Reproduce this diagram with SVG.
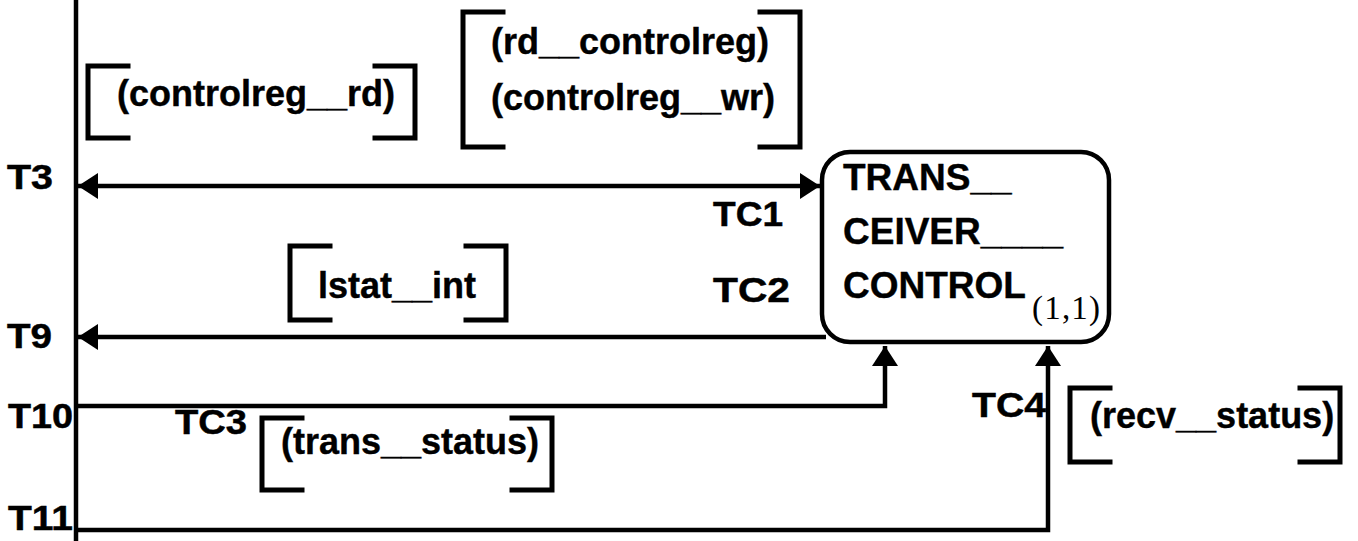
<svg xmlns="http://www.w3.org/2000/svg" width="1358" height="541" viewBox="0 0 1358 541">
  <style>
    .ln { fill: none; stroke: #000; stroke-width: 4.5; stroke-linejoin: miter; }
    .br { fill: none; stroke: #000; stroke-width: 5; stroke-linecap: square; }
    .lab { font-family: "Liberation Sans", Arial, sans-serif; font-weight: bold; font-size: 36px; fill: #000; stroke: #000; stroke-width: 0.4; }
    .port { font-family: "Liberation Sans", Arial, sans-serif; font-weight: bold; font-size: 35px; fill: #000; stroke: #000; stroke-width: 0.5; }
    .name { font-family: "Liberation Sans", Arial, sans-serif; font-weight: bold; font-size: 37px; fill: #000; stroke: #000; stroke-width: 0.4; }
    .sub { font-family: "Liberation Serif", "Times New Roman", serif; font-size: 33px; fill: #000; }
  </style>
  <defs>
    <marker id="ah" viewBox="0 0 20 26" refX="20" refY="13" markerWidth="20" markerHeight="26" markerUnits="userSpaceOnUse" orient="auto-start-reverse">
      <path d="M0 0 L20 13 L0 26 Z" fill="#000"/>
    </marker>
  </defs>

  <rect width="1358" height="541" fill="#fff"/>

  <!-- environment boundary -->
  <line class="ln" x1="76" y1="0" x2="76" y2="541"/>

  <!-- terminal labels -->
  <g id="terminals">
    <text class="port" x="7" y="189" textLength="46" lengthAdjust="spacingAndGlyphs">T3</text>
    <text class="port" x="7" y="348" textLength="45" lengthAdjust="spacingAndGlyphs">T9</text>
    <text class="port" x="8" y="428" textLength="65" lengthAdjust="spacingAndGlyphs">T10</text>
    <text class="port" x="8" y="530" textLength="65" lengthAdjust="spacingAndGlyphs">T11</text>
  </g>

  <!-- transceiver control module -->
  <g id="trans_ceiver_control">
    <rect class="ln" x="822" y="152" width="287" height="190" rx="28" ry="28" fill="#fff"/>
    <text class="name" x="843" y="190">TRANS__</text>
    <text class="name" x="843" y="244">CEIVER____</text>
    <text class="name" x="843" y="298">CONTROL</text>
    <text class="sub" x="1032" y="319" textLength="68" lengthAdjust="spacing">(1,1)</text>
  </g>

  <!-- connectors -->
  <g id="connectors">
    <line class="ln" x1="78" y1="186" x2="820" y2="186" marker-start="url(#ah)" marker-end="url(#ah)"/>
    <line class="ln" x1="826" y1="337" x2="78" y2="337" marker-end="url(#ah)"/>
    <path class="ln" d="M76 406 H885 V346" marker-end="url(#ah)"/>
    <path class="ln" d="M76 530 H1048 V346" marker-end="url(#ah)"/>
  </g>

  <!-- port labels -->
  <g id="ports">
    <text class="port" x="713" y="226" textLength="70" lengthAdjust="spacingAndGlyphs">TC1</text>
    <text class="port" x="713" y="302" textLength="77" lengthAdjust="spacingAndGlyphs">TC2</text>
    <text class="port" x="175" y="434" textLength="72" lengthAdjust="spacingAndGlyphs">TC3</text>
    <text class="port" x="972" y="417" textLength="74" lengthAdjust="spacingAndGlyphs">TC4</text>
  </g>

  <!-- signal label: controlreg__rd -->
  <g id="sig_controlreg_rd">
    <path class="br" d="M128 66 H88 V138 H128"/>
    <path class="br" d="M375 66 H415 V138 H375"/>
    <text class="lab" x="117" y="106">(controlreg__rd)</text>
  </g>

  <!-- signal label: rd__controlreg / controlreg__wr -->
  <g id="sig_rd_wr">
    <path class="br" d="M503 12 H463 V147 H503"/>
    <path class="br" d="M760 12 H800 V147 H760"/>
    <text class="lab" x="491" y="54">(rd__controlreg)</text>
    <text class="lab" x="491" y="110">(controlreg__wr)</text>
  </g>

  <!-- signal label: lstat__int -->
  <g id="sig_lstat_int">
    <path class="br" d="M330 246 H290 V320 H330"/>
    <path class="br" d="M466 246 H506 V320 H466"/>
    <text class="lab" x="318" y="298">lstat__int</text>
  </g>

  <!-- signal label: trans__status -->
  <g id="sig_trans_status">
    <path class="br" d="M302 418 H262 V490 H302"/>
    <path class="br" d="M512 418 H552 V490 H512"/>
    <text class="lab" x="281" y="454">(trans__status)</text>
  </g>

  <!-- signal label: recv__status -->
  <g id="sig_recv_status">
    <path class="br" d="M1110 388 H1070 V462 H1110"/>
    <path class="br" d="M1300 388 H1340 V462 H1300"/>
    <text class="lab" x="1090" y="428">(recv__status)</text>
  </g>
</svg>
